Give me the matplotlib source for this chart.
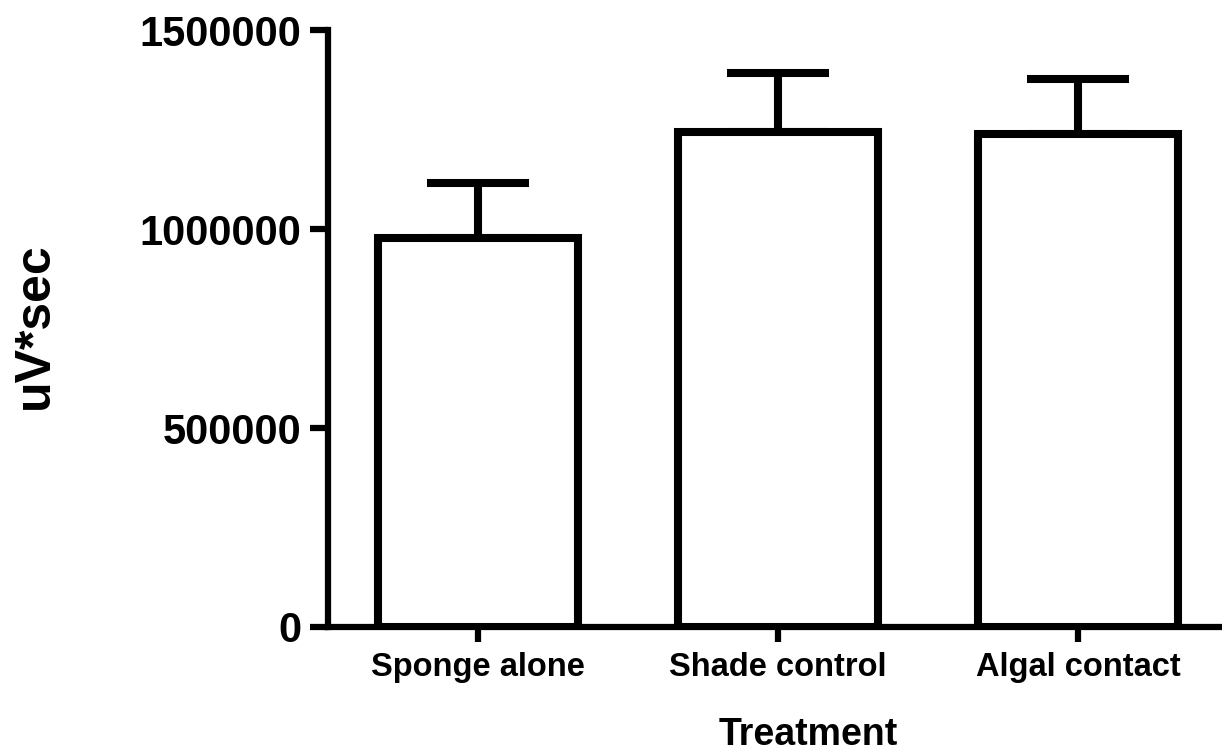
import numpy as np
import matplotlib
matplotlib.use("Agg")
import matplotlib.pyplot as plt

# group means and upper SEM
treatments = ["Sponge alone", "Shade control", "Algal contact"]
means = [977000, 1244000, 1239000]
sem = [139000, 148000, 138000]
yticks = [0, 500000, 1000000, 1500000]

plt.rcParams['font.family'] = ['Liberation Sans', 'DejaVu Sans']
plt.rcParams['font.weight'] = 'bold'

fig = plt.figure(figsize=(12.22, 7.53), dpi=100)
ax = fig.add_axes([328 / 1222, 1 - 627 / 753, 1 - 328 / 1222, (627 - 30) / 753])

x = np.arange(len(treatments))
ax.bar(x, means, width=0.667, color='white', edgecolor='black', linewidth=5.8, zorder=3)
ax.errorbar(x, means, yerr=[np.zeros(len(sem)), sem], fmt='none', ecolor='black',
            elinewidth=5.8, capsize=37, capthick=5.8, zorder=2, clip_on=False)

ax.set_xlim(-0.5, 2.48)
ax.set_ylim(0, 1500000)
ax.set_yticks(yticks)
ax.set_yticklabels([str(v) for v in yticks], fontsize=30, fontweight='bold')
ax.set_xticks(x)
ax.set_xticklabels(treatments, fontsize=23.5, fontweight='bold')

ax.spines['top'].set_visible(False)
ax.spines['right'].set_visible(False)
ax.spines['left'].set_linewidth(4.5)
ax.spines['bottom'].set_linewidth(4.5)
ax.spines['left'].set_zorder(4)
ax.spines['bottom'].set_zorder(4)
ax.tick_params(axis='y', length=13, width=4.5, pad=6)
ax.tick_params(axis='x', length=11, width=4.5, pad=7)

fig.text(35 / 1222, 1 - 326 / 753, "uV*sec", rotation=90, ha='center', va='center',
         fontsize=36, fontweight='bold')
fig.text(808 / 1222, 1 - 745 / 753, "Treatment", ha='center', va='baseline',
         fontsize=27, fontweight='bold')

fig.savefig("out.png", dpi=100)
